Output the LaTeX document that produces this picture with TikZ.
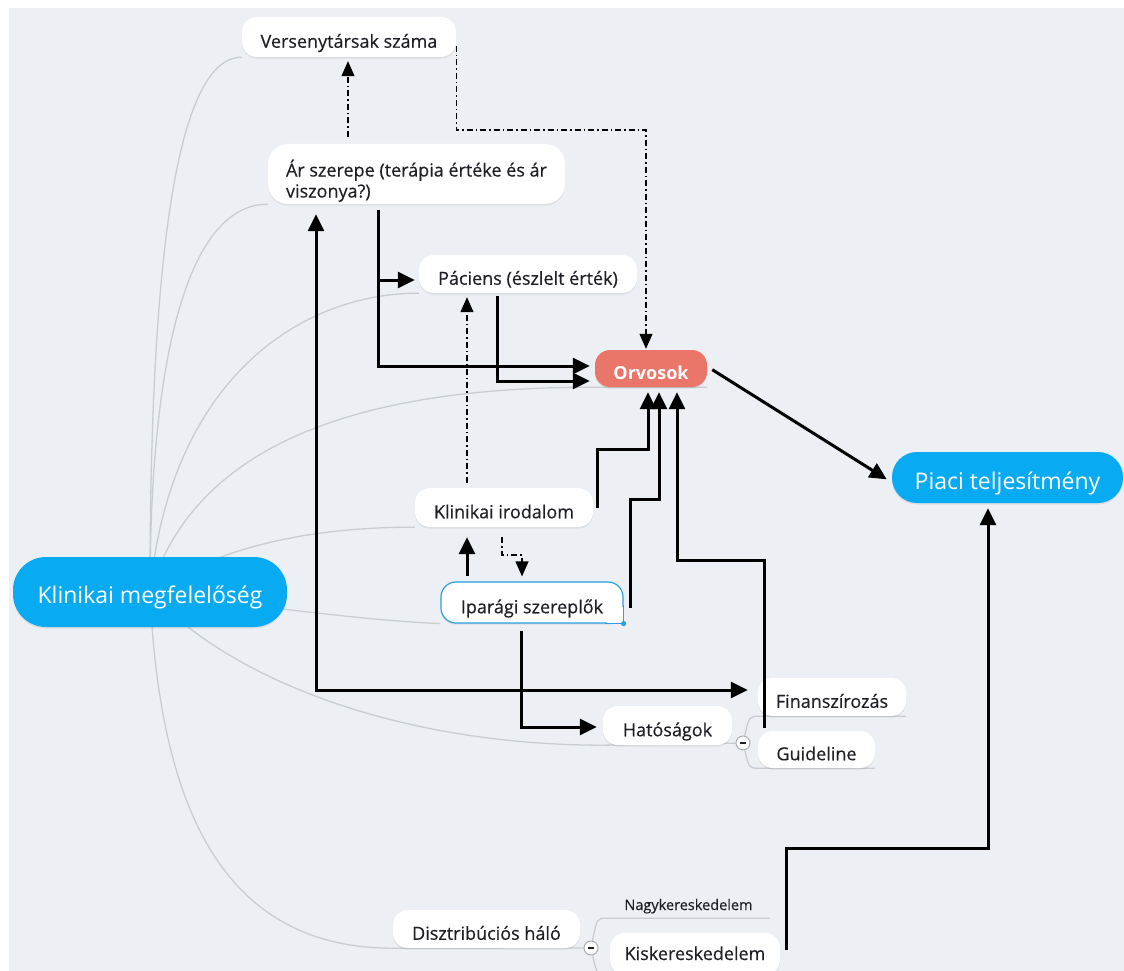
\documentclass[tikz,border=0pt]{standalone}
\usepackage{fontspec}
\setmainfont{Open Sans}
\newfontfamily\topicfont{Open Sans}[FakeBold=0.3]
\usetikzlibrary{arrows.meta,shadows,calc}
\definecolor{bgc}{RGB}{236,240,244}
\definecolor{hubblue}{RGB}{8,170,242}
\definecolor{docred}{RGB}{234,118,106}
\definecolor{brgray}{RGB}{200,205,210}
\definecolor{ipblue}{RGB}{40,160,225}
\definecolor{ink}{RGB}{30,30,36}
\pgfdeclarelayer{bg}
\pgfsetlayers{bg,main}
\begin{document}
\begin{tikzpicture}[x=1pt,y=-1pt,
  pill/.style={rectangle, rounded corners=15pt, fill=white, inner sep=0pt, text=ink,
    font=\topicfont\fontsize{18}{21}\selectfont, text height=21.5pt, text depth=0pt,
    drop shadow={shadow xshift=0pt, shadow yshift=-1.6pt, opacity=0.16}},
  hub/.style={pill, fill=hubblue, text=white, font=\fontsize{23}{27}\selectfont, text height=23pt},
  coll/.style={circle, draw=brgray!85!black, fill=white, line width=1pt, minimum size=14pt, inner sep=0pt,
    path picture={\draw[line width=1.6pt, ink] ([xshift=-3pt]path picture bounding box.center) -- ([xshift=3pt]path picture bounding box.center);}},
  br/.style={draw=brgray, line width=1.3pt},
  arr/.style={line width=3pt, -{Triangle[length=17pt,width=16pt]}},
  dd/.style={line width=1.2pt, dash pattern=on 6pt off 3pt on 1.5pt off 3pt, -{Triangle[length=15pt,width=13pt]}}
]
\useasboundingbox (0,0) rectangle (1124,971);

% topic nodes
\node[pill, minimum width=214pt, minimum height=40pt] (vs) at (349,37) {Versenytársak száma};
\node[pill, rounded corners=20pt, minimum width=297pt, minimum height=60pt, text height=14pt, text depth=9pt] (ar) at (416.5,174)
  {\begin{tabular}[t]{@{}l@{}}Ár szerepe (terápia értéke és ár\\viszonya?)\end{tabular}};
\node[pill, minimum width=218pt, minimum height=38pt] (pac) at (528,274) {Páciens (észlelt érték)};
\node[pill, fill=docred, text=white, font=\fontsize{18}{21}\selectfont\bfseries, minimum width=112pt, minimum height=37pt] (orv) at (651,368.5) {Orvosok};
\node[hub, rounded corners=25pt, minimum width=231pt, minimum height=51pt] (pia) at (1007.5,477.5) {Piaci teljesítmény};
\node[hub, rounded corners=33pt, minimum width=274pt, minimum height=70pt] (km) at (150,592) {Klinikai megfelelőség};
\node[pill, minimum width=178pt, minimum height=39pt] (ki) at (504,507.5) {Klinikai irodalom};
\node[pill, draw=ipblue, line width=1.2pt, minimum width=182pt, minimum height=41pt] (ip) at (532,602.5) {Iparági szereplők};
\node[pill, minimum width=129pt, minimum height=39pt] (hat) at (667.5,725.5) {Hatóságok};
\node[pill, minimum width=148pt, minimum height=38pt] (fin) at (832,697) {Finanszírozás};
\node[pill, minimum width=117pt, minimum height=37pt] (gd) at (816.5,749.5) {Guideline};
\node[pill, minimum width=187pt, minimum height=38pt] (dh) at (486.5,929) {Disztribúciós háló};
\node[text=ink, font=\topicfont\fontsize{14.5}{17}\selectfont, inner sep=0pt, minimum width=163pt, minimum height=26pt, text height=10pt, text depth=0pt] (nk) at (688.5,905) {Nagykereskedelem};
\node[pill, minimum width=170pt, minimum height=42pt, text height=12pt] (kk) at (695,954) {Kiskereskedelem};

% selected topic: square lower right corner with a handle
\fill[white] ($(ip.south east)+(-17,-17)$) rectangle (ip.south east);
\draw[ipblue, line width=1.2pt] ($(ip.south east)+(0,-19)$) -- (ip.south east) -- ($(ip.south east)+(-19,0)$);
\fill[ipblue] (ip.south east) circle[radius=2.6pt];

% collapse buttons
\node[coll] (c1) at (743,743) {};
\node[coll] (c2) at (591,948) {};

% background and branch lines
\begin{pgfonlayer}{bg}
\fill[white] (0,0) rectangle (1124,971);
\fill[bgc] (9,8) rectangle (1124,971);
\draw[br] (km.center) .. controls (150,300) and (170,57) .. (vs.south west);
\draw[br] (km.center) .. controls (150,350) and (190,204) .. (ar.south west);
\draw[br] (km.center) .. controls (170,380) and (300,293) .. (pac.south west);
\draw[br] (km.center) .. controls (200,425) and (400,387) .. (orv.south west) -- (orv.south east);
\draw[br] (km.center) .. controls (230,540) and (330,527) .. (ki.south west);
\draw[br] (km.center) .. controls (300,612) and (380,621) .. (ip.south west);
\draw[br] (km.center) .. controls (230,680) and (400,745) .. (hat.south west) -- (c1);
\draw[br] (km.center) .. controls (160,820) and (230,948) .. (dh.south west) -- (c2);
\draw[br] (c1) .. controls (749,717) .. (fin.south west) -- (fin.south east);
\draw[br] (c1) .. controls (749,768) .. (gd.south west) -- (gd.south east);
\draw[br] (c2) .. controls (597,918) .. (nk.south west) -- (nk.south east);
\draw[br] (c2) .. controls (597,975) .. (kk.south west);
\end{pgfonlayer}

% relations
\draw[dd, shorten <=7pt, shorten >=4pt] (ar.north -| 348,0) -- (vs.south -| 348,0);
\draw[dd, shorten >=1pt] ([yshift=-9pt]vs.east) |- (646,130) -- (orv.north -| 646,0);
\draw[arr, shorten <=6pt, shorten >=4pt] (ar.south -| 378,0) |- (pac.west |- 0,280);
\draw[arr, shorten <=6pt, shorten >=5pt] (ar.south -| 378,0) |- (orv.west |- 0,366);
\draw[arr, shorten <=3pt, shorten >=5pt] (pac.south -| 497,0) |- (orv.west |- 0,381);
\draw[dd, shorten <=5pt, shorten >=4pt] (ki.north -| 467,0) -- (pac.south -| 467,0);
\draw[arr, shorten <=5pt, shorten >=10pt] (ip.north -| 467,0) -- (ki.south -| 467,0);
\draw[dd, shorten <=10pt, shorten >=5pt] (ki.south -| 502,0) |- (522,555) -- (ip.north -| 522,0);
\draw[arr, shorten >=5pt] ([xshift=4pt]ki.east) |- (648,449) -- (orv.south -| 648,0);
\draw[arr, shorten >=5pt] ([xshift=7pt,yshift=-5pt]ip.east) |- (659,499) -- (orv.south -| 659,0);
\draw[arr, shorten <=3pt, shorten >=5pt] (gd.north -| 764,0) |- (677,560) -- (orv.south -| 677,0);
\draw[arr, {Triangle[length=17pt,width=16pt]}-{Triangle[length=17pt,width=16pt]}, shorten <=10pt, shorten >=10pt] (ar.south -| 316,0) |- (fin.west |- 0,690);
\draw[arr, shorten <=7pt, shorten >=6pt] (ip.south -| 521,0) |- (hat.west |- 0,727);
\draw[arr, shorten <=6pt, shorten >=6pt] ([yshift=2pt]orv.east) -- ([yshift=-5pt]pia.west);
\draw[arr, shorten >=5pt] ([xshift=6pt,yshift=4pt]kk.east) |- (988,848) -- (pia.south -| 988,0);
\end{tikzpicture}
\end{document}
